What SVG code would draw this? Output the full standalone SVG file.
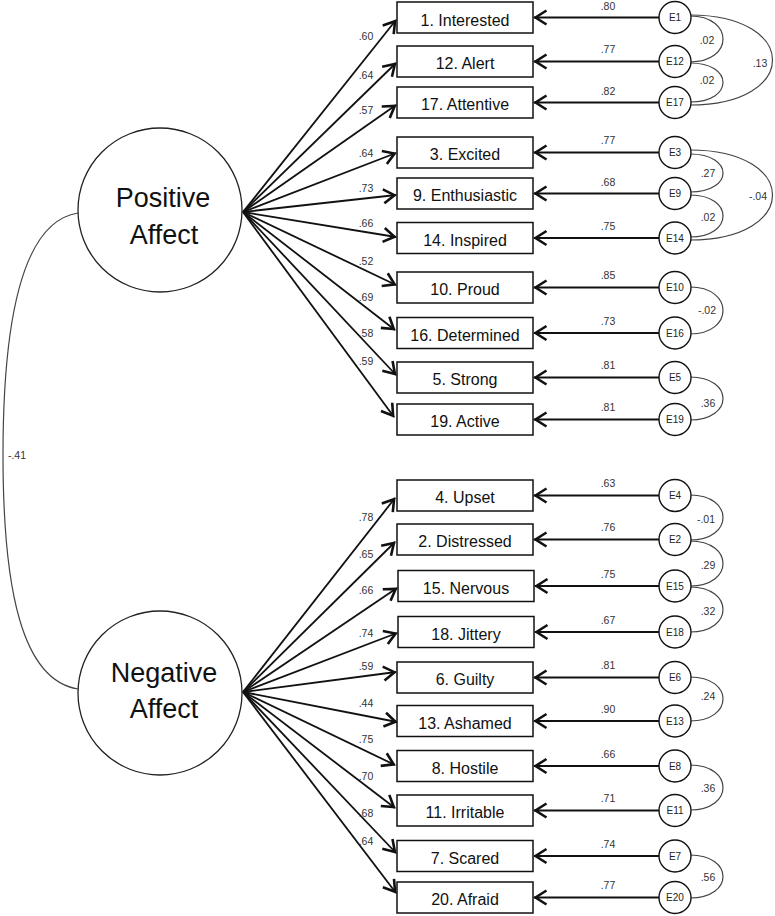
<svg xmlns="http://www.w3.org/2000/svg" width="775" height="916" viewBox="0 0 775 916">
<style>
.bg{fill:#fff}
.box{fill:#fff;stroke:#111;stroke-width:1.5}
.lat{fill:#fff;stroke:#222;stroke-width:1.3}
.err{fill:#fff;stroke:#111;stroke-width:1.4}
.item{font-family:"Liberation Sans",Arial,sans-serif;font-size:16px;fill:#111;text-anchor:middle}
.fac{font-family:"Liberation Sans",Arial,sans-serif;font-size:27px;fill:#111;text-anchor:middle}
.elab{font-family:"Liberation Sans",Arial,sans-serif;font-size:10px;fill:#222;text-anchor:middle}
.num{font-family:"Liberation Sans",Arial,sans-serif;font-size:10.5px;fill:#333;text-anchor:middle}
.load{fill:none;stroke:#111;stroke-width:1.8;marker-end:url(#ah)}
.res{fill:none;stroke:#111;stroke-width:2;marker-end:url(#ah)}
.cov{fill:none;stroke:#444;stroke-width:1.2}
</style>
<defs>
<marker id="ah" markerUnits="userSpaceOnUse" viewBox="-16 -10 18 20" refX="0" refY="0" markerWidth="18" markerHeight="20" orient="auto" overflow="visible">
<path d="M-12.5,-7 L-1.5,0 L-12.5,7" fill="none" stroke="#111" stroke-width="2.6"/>
</marker>
</defs>
<rect class="bg" x="0" y="0" width="775" height="916"/>
<g id="connectors">
<!-- factor covariance -->
<path class="cov" d="M78,213 C20,222 3,330 3,455 C3,590 22,680 78,689"/>
<text class="num" x="17" y="459">-.41</text>
<!-- positive loadings -->
<line class="load" x1="243" y1="212" x2="396" y2="20"/>
<line class="load" x1="243" y1="212" x2="396" y2="63"/>
<line class="load" x1="243" y1="212" x2="396" y2="105"/>
<line class="load" x1="243" y1="212" x2="396" y2="153"/>
<line class="load" x1="243" y1="212" x2="396" y2="195"/>
<line class="load" x1="243" y1="212" x2="396" y2="237"/>
<line class="load" x1="243" y1="212" x2="396" y2="285"/>
<line class="load" x1="243" y1="212" x2="395" y2="330"/>
<line class="load" x1="243" y1="212" x2="396" y2="375"/>
<line class="load" x1="243" y1="212" x2="394" y2="417"/>
<text class="num" x="366" y="40">.60</text>
<text class="num" x="366" y="79">.64</text>
<text class="num" x="366" y="114">.57</text>
<text class="num" x="366" y="157">.64</text>
<text class="num" x="366" y="192">.73</text>
<text class="num" x="366" y="227">.66</text>
<text class="num" x="366" y="265">.52</text>
<text class="num" x="366" y="301">.69</text>
<text class="num" x="366" y="337">.58</text>
<text class="num" x="366" y="365">.59</text>
<!-- negative loadings -->
<line class="load" x1="243" y1="692" x2="395" y2="498"/>
<line class="load" x1="243" y1="692" x2="395" y2="542"/>
<line class="load" x1="243" y1="692" x2="397" y2="588"/>
<line class="load" x1="243" y1="692" x2="397" y2="633"/>
<line class="load" x1="243" y1="692" x2="396" y2="672"/>
<line class="load" x1="243" y1="692" x2="397" y2="722"/>
<line class="load" x1="243" y1="692" x2="395" y2="765"/>
<line class="load" x1="243" y1="692" x2="395" y2="808"/>
<line class="load" x1="243" y1="692" x2="396" y2="853"/>
<line class="load" x1="243" y1="692" x2="396" y2="893"/>
<text class="num" x="366" y="521">.78</text>
<text class="num" x="366" y="558">.65</text>
<text class="num" x="366" y="594">.66</text>
<text class="num" x="366" y="637">.74</text>
<text class="num" x="366" y="670">.59</text>
<text class="num" x="366" y="707">.44</text>
<text class="num" x="366" y="743">.75</text>
<text class="num" x="366" y="780">.70</text>
<text class="num" x="366" y="817">.68</text>
<text class="num" x="366" y="845">.64</text>
<!-- residual arrows -->
<line class="res" x1="659" y1="17.5" x2="534" y2="17.5"/>
<line class="res" x1="659" y1="61.5" x2="534" y2="61.5"/>
<line class="res" x1="659" y1="102.5" x2="534" y2="102.5"/>
<line class="res" x1="659" y1="152.5" x2="534" y2="152.5"/>
<line class="res" x1="659" y1="193.5" x2="534" y2="193.5"/>
<line class="res" x1="659" y1="238" x2="534" y2="238"/>
<line class="res" x1="659" y1="287.5" x2="534" y2="287.5"/>
<line class="res" x1="659" y1="333" x2="534" y2="333"/>
<line class="res" x1="659" y1="377.5" x2="534" y2="377.5"/>
<line class="res" x1="659" y1="419.5" x2="534" y2="419.5"/>
<line class="res" x1="659" y1="495.5" x2="534" y2="495.5"/>
<line class="res" x1="659" y1="539.5" x2="534" y2="539.5"/>
<line class="res" x1="659" y1="586" x2="535" y2="586"/>
<line class="res" x1="659" y1="632" x2="535" y2="632"/>
<line class="res" x1="659" y1="677.5" x2="534" y2="677.5"/>
<line class="res" x1="659" y1="721" x2="534" y2="721"/>
<line class="res" x1="659" y1="766" x2="534" y2="766"/>
<line class="res" x1="659" y1="810.5" x2="534" y2="810.5"/>
<line class="res" x1="659" y1="856" x2="534" y2="856"/>
<line class="res" x1="659" y1="897.5" x2="534" y2="897.5"/>
<text class="num" x="608" y="10">.80</text>
<text class="num" x="608" y="53">.77</text>
<text class="num" x="608" y="95">.82</text>
<text class="num" x="608" y="144">.77</text>
<text class="num" x="608" y="186">.68</text>
<text class="num" x="608" y="230">.75</text>
<text class="num" x="608" y="279">.85</text>
<text class="num" x="608" y="325">.73</text>
<text class="num" x="608" y="369">.81</text>
<text class="num" x="608" y="411">.81</text>
<text class="num" x="608" y="487">.63</text>
<text class="num" x="608" y="531">.76</text>
<text class="num" x="608" y="578">.75</text>
<text class="num" x="608" y="624">.67</text>
<text class="num" x="608" y="669">.81</text>
<text class="num" x="608" y="713">.90</text>
<text class="num" x="608" y="758">.66</text>
<text class="num" x="608" y="802">.71</text>
<text class="num" x="608" y="848">.74</text>
<text class="num" x="608" y="889">.77</text>
<!-- residual covariances -->
<path class="cov" d="M690,16 C734,16 734,62 690,62"/>
<text class="num" x="707" y="44">.02</text>
<path class="cov" d="M690,63 C734,63 734,102 690,102"/>
<text class="num" x="707" y="84">.02</text>
<path class="cov" d="M690,15 C800,15 800,105 690,105"/>
<text class="num" x="760" y="67">.13</text>
<path class="cov" d="M690,154 C734,154 734,192 690,192"/>
<text class="num" x="708" y="177">.27</text>
<path class="cov" d="M690,195 C734,195 734,237 690,237"/>
<text class="num" x="708" y="221">.02</text>
<path class="cov" d="M690,150 C800,150 800,240 690,240"/>
<text class="num" x="758" y="200">-.04</text>
<path class="cov" d="M690,287 C734,287 734,334 690,334"/>
<text class="num" x="707" y="314">-.02</text>
<path class="cov" d="M690,377 C734,377 734,420 690,420"/>
<text class="num" x="708" y="407">.36</text>
<path class="cov" d="M690,495 C734,495 734,540 690,540"/>
<text class="num" x="706" y="523">-.01</text>
<path class="cov" d="M690,541 C734,541 734,586 690,586"/>
<text class="num" x="708" y="569">.29</text>
<path class="cov" d="M690,587 C734,587 734,632 690,632"/>
<text class="num" x="708" y="615">.32</text>
<path class="cov" d="M690,677 C734,677 734,721 690,721"/>
<text class="num" x="708" y="700">.24</text>
<path class="cov" d="M690,765 C734,765 734,810 690,810"/>
<text class="num" x="708" y="792">.36</text>
<path class="cov" d="M690,855 C734,855 734,898 690,898"/>
<text class="num" x="708" y="881">.56</text>
</g>
<g id="factor-positive"><circle class="lat" cx="160" cy="210" r="82"/><text class="fac" x="163" y="207">Positive</text><text class="fac" x="164" y="244">Affect</text></g>
<g id="factor-negative"><circle class="lat" cx="160" cy="693" r="82"/><text class="fac" x="164" y="682">Negative</text><text class="fac" x="164" y="718">Affect</text></g>
<g id="item-1"><rect class="box" x="397" y="2" width="136" height="31"/><text class="item" x="465" y="25.5">1. Interested</text></g>
<g id="item-12"><rect class="box" x="397" y="46" width="136" height="31"/><text class="item" x="465" y="69">12. Alert</text></g>
<g id="item-17"><rect class="box" x="397" y="87" width="136" height="31"/><text class="item" x="465" y="110">17. Attentive</text></g>
<g id="item-3"><rect class="box" x="397" y="137" width="136" height="31"/><text class="item" x="465" y="160">3. Excited</text></g>
<g id="item-9"><rect class="box" x="397" y="178" width="136" height="31"/><text class="item" x="465" y="201">9. Enthusiastic</text></g>
<g id="item-14"><rect class="box" x="397" y="222.5" width="136" height="31"/><text class="item" x="465" y="245.5">14. Inspired</text></g>
<g id="item-10"><rect class="box" x="397" y="272" width="136" height="31"/><text class="item" x="465" y="295">10. Proud</text></g>
<g id="item-16"><rect class="box" x="397" y="317.5" width="136" height="31"/><text class="item" x="465" y="340.5">16. Determined</text></g>
<g id="item-5"><rect class="box" x="397" y="362" width="136" height="31"/><text class="item" x="465" y="385">5. Strong</text></g>
<g id="item-19"><rect class="box" x="397" y="404" width="136" height="31"/><text class="item" x="465" y="427">19. Active</text></g>
<g id="item-4"><rect class="box" x="397" y="480" width="136" height="31"/><text class="item" x="465" y="503">4. Upset</text></g>
<g id="item-2"><rect class="box" x="397" y="524" width="136" height="31"/><text class="item" x="465" y="547">2. Distressed</text></g>
<g id="item-15"><rect class="box" x="398" y="570.5" width="136" height="31"/><text class="item" x="466" y="593.5">15. Nervous</text></g>
<g id="item-18"><rect class="box" x="398" y="616.5" width="136" height="31"/><text class="item" x="466" y="639.5">18. Jittery</text></g>
<g id="item-6"><rect class="box" x="397" y="662" width="136" height="31"/><text class="item" x="465" y="685">6. Guilty</text></g>
<g id="item-13"><rect class="box" x="397" y="705.5" width="136" height="31"/><text class="item" x="465" y="728.5">13. Ashamed</text></g>
<g id="item-8"><rect class="box" x="397" y="750.5" width="136" height="31"/><text class="item" x="465" y="773.5">8. Hostile</text></g>
<g id="item-11"><rect class="box" x="397" y="795" width="136" height="31"/><text class="item" x="465" y="818">11. Irritable</text></g>
<g id="item-7"><rect class="box" x="397" y="840.5" width="136" height="31"/><text class="item" x="465" y="863.5">7. Scared</text></g>
<g id="item-20"><rect class="box" x="397" y="882" width="136" height="31"/><text class="item" x="465" y="905">20. Afraid</text></g>
<g id="err-E1"><circle class="err" cx="675" cy="17.5" r="16"/><text class="elab" x="675" y="21">E1</text></g>
<g id="err-E12"><circle class="err" cx="675" cy="61.5" r="16"/><text class="elab" x="675" y="65">E12</text></g>
<g id="err-E17"><circle class="err" cx="675" cy="102.5" r="16"/><text class="elab" x="675" y="106">E17</text></g>
<g id="err-E3"><circle class="err" cx="675" cy="152.5" r="16"/><text class="elab" x="675" y="156">E3</text></g>
<g id="err-E9"><circle class="err" cx="675" cy="193.5" r="16"/><text class="elab" x="675" y="197">E9</text></g>
<g id="err-E14"><circle class="err" cx="675" cy="238" r="16"/><text class="elab" x="675" y="241.5">E14</text></g>
<g id="err-E10"><circle class="err" cx="675" cy="287.5" r="16"/><text class="elab" x="675" y="291">E10</text></g>
<g id="err-E16"><circle class="err" cx="675" cy="333" r="16"/><text class="elab" x="675" y="336.5">E16</text></g>
<g id="err-E5"><circle class="err" cx="675" cy="377.5" r="16"/><text class="elab" x="675" y="381">E5</text></g>
<g id="err-E19"><circle class="err" cx="675" cy="419.5" r="16"/><text class="elab" x="675" y="423">E19</text></g>
<g id="err-E4"><circle class="err" cx="675" cy="495.5" r="16"/><text class="elab" x="675" y="499">E4</text></g>
<g id="err-E2"><circle class="err" cx="675" cy="539.5" r="16"/><text class="elab" x="675" y="543">E2</text></g>
<g id="err-E15"><circle class="err" cx="675" cy="586" r="16"/><text class="elab" x="675" y="589.5">E15</text></g>
<g id="err-E18"><circle class="err" cx="675" cy="632" r="16"/><text class="elab" x="675" y="635.5">E18</text></g>
<g id="err-E6"><circle class="err" cx="675" cy="677.5" r="16"/><text class="elab" x="675" y="681">E6</text></g>
<g id="err-E13"><circle class="err" cx="675" cy="721" r="16"/><text class="elab" x="675" y="724.5">E13</text></g>
<g id="err-E8"><circle class="err" cx="675" cy="766" r="16"/><text class="elab" x="675" y="769.5">E8</text></g>
<g id="err-E11"><circle class="err" cx="675" cy="810.5" r="16"/><text class="elab" x="675" y="814">E11</text></g>
<g id="err-E7"><circle class="err" cx="675" cy="856" r="16"/><text class="elab" x="675" y="859.5">E7</text></g>
<g id="err-E20"><circle class="err" cx="675" cy="897.5" r="16"/><text class="elab" x="675" y="901">E20</text></g>
</svg>
